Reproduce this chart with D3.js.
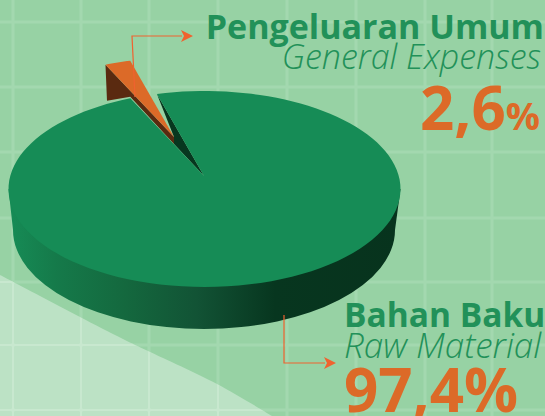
<!DOCTYPE html>
<html><head><meta charset="utf-8">
<style>html,body{margin:0;padding:0;background:#97d2a4}svg{display:block}text{font-family:"Open Sans",sans-serif}</style>
<script src="https://cdn.jsdelivr.net/npm/d3@7"></script></head><body>
<script>
const categories = ["Bahan Baku", "Pengeluaran Umum"];
const categoriesEn = ["Raw Material", "General Expenses"];
const shares = [97.4, 2.6];
const shareLabels = ["97,4%", "2,6"];
const W = 545, H = 416;
const svg = d3.select("body").append("svg").attr("width", W).attr("height", H);
const rad = d => d * Math.PI / 180;

// background
svg.append("rect").attr("width", W).attr("height", H).attr("fill", "#97d2a4");
const lightEdge = [[0,275],[40,296],[80,317],[123,339],[148,351],[217,384],[272,416]];
const line = d3.line().curve(d3.curveCatmullRom);
const lightPath = line(lightEdge) + "L0,416Z";
svg.append("path").attr("d", lightPath).attr("fill", "#bce2c5");
svg.append("clipPath").attr("id","la").append("path").attr("d", lightPath);
const gridH = [22, 87, 152, 218, 282, 345, 410];
const gridV = [13, 81, 149, 218, 287, 356, 425, 492];
const drawGrid = (g, col) => {
  gridH.forEach(y => g.append("line").attr("x1",0).attr("x2",W).attr("y1",y).attr("y2",y).attr("stroke",col).attr("stroke-width",3));
  gridV.forEach(x => g.append("line").attr("x1",x).attr("x2",x).attr("y1",0).attr("y2",H).attr("stroke",col).attr("stroke-width",3));
};
drawGrid(svg.append("g"), "#a3d8af");
drawGrid(svg.append("g").attr("clip-path","url(#la)"), "#c8e8cf");

// pie geometry
const cx = 204.5, cy = 189, rx = 196, ry = 98, k = 0.5;
const apex = [204, 176];
const base = {cx: 204, cy: 230, rx: 191, ry: 99};
const arcs = d3.pie().sort(null).startAngle(rad(-16)).endAngle(rad(344))(shares);
const rim = a => {
  const dx = Math.sin(a), dy = -k * Math.cos(a);
  const ox = (apex[0]-cx)/rx, oy = (apex[1]-cy)/ry, ux = dx/rx, uy = dy/ry;
  const A = ux*ux+uy*uy, B = 2*(ox*ux+oy*uy), C = ox*ox+oy*oy-1;
  const s = (-B + Math.sqrt(B*B-4*A*C))/(2*A);
  return [apex[0]+s*dx, apex[1]+s*dy];
};
const main = arcs[0], small = arcs[1];

// side wall
const defs = svg.append("defs");
const grad = defs.append("linearGradient").attr("id","wall").attr("gradientUnits","userSpaceOnUse")
  .attr("x1",cx-rx).attr("x2",cx+rx).attr("y1",0).attr("y2",0);
[[0,"#168c56"],[0.12,"#157a4a"],[0.3,"#14683e"],[0.48,"#125335"],[0.68,"#07361f"],[1,"#07331d"]]
  .forEach(s => grad.append("stop").attr("offset",s[0]).attr("stop-color",s[1]));
svg.append("path").attr("fill","url(#wall)")
  .attr("d",`M${cx-rx},${cy}L${base.cx-base.rx},${base.cy}A${base.rx},${base.ry} 0 0 0 ${base.cx+base.rx},${base.cy}L${cx+rx},${cy}Z`);

// exploded slice
const off = [-30, -39], sc = 0.93;
const tip = [apex[0]+off[0], apex[1]+off[1]];
const ex = a => { const p = rim(a); return [tip[0]+(p[0]-apex[0])*sc, tip[1]+(p[1]-apex[1])*sc]; };
const tip2 = [tip[0], tip[1]+7];
const pl = ex(small.startAngle), pr = ex(small.endAngle);
const wallDepth = 36;
const rimR = rim(main.startAngle);
svg.append("path").attr("fill","#07371f").attr("d", d3.line()([rimR, apex, tip2, tip])+"Z");
svg.append("path").attr("fill","#5a2a10").attr("d", d3.line()([tip, pl, [pl[0]+1.5,pl[1]+wallDepth], [pr[0],pr[1]+wallDepth], tip2])+"Z");
const steps = d3.range(0, 121).map(i => main.startAngle + (main.endAngle-main.startAngle)*i/120);
svg.append("path").attr("fill","#168c56").attr("d", d3.line()([apex, ...steps.map(rim)])+"Z");
const orangeSteps = d3.range(0, 9).map(i => small.startAngle + (small.endAngle-small.startAngle)*i/8);
svg.append("path").attr("fill","#dc6a28").attr("d", d3.line()([tip, ...orangeSteps.map(ex)])+"Z");

// leaders
const lc = "#f0622f";
const arrow = (pts) => {
  svg.append("path").attr("fill","none").attr("stroke",lc).attr("stroke-width",1.2).attr("d",d3.line()(pts));
  const e = pts[pts.length-1];
  svg.append("path").attr("fill",lc).attr("d",`M${e[0]+11},${e[1]}L${e[0]-1},${e[1]-6}L${e[0]+2},${e[1]}L${e[0]-1},${e[1]+6}Z`);
};
arrow([[135,97],[132,36],[182,36]]);
arrow([[284,315],[284,363],[325,363]]);

// labels
const txt = (x,y,s,size,fill,opt={}) => svg.append("text").attr("x",x).attr("y",y).attr("font-size",size).attr("fill",fill)
  .attr("font-weight",opt.w||400).attr("font-style",opt.i?"italic":"normal").attr("text-anchor",opt.a||"end").text(s);
const G = "#229159", O = "#dc6a28";
txt(544,39,categories[1],34,G,{w:700});
txt(541,69,categoriesEn[1],34,G,{i:1,w:300});
const t = txt(540,130,"",60,O,{w:700});
t.append("tspan").text(shareLabels[1]);
t.append("tspan").attr("font-size",38).text("%");
txt(344,327,categories[0],33.5,G,{w:700,a:"start"});
txt(344,358,categoriesEn[0],35,G,{i:1,w:300,a:"start"});
txt(344,412,shareLabels[0],60,O,{w:700,a:"start"});
</script></body></html>
